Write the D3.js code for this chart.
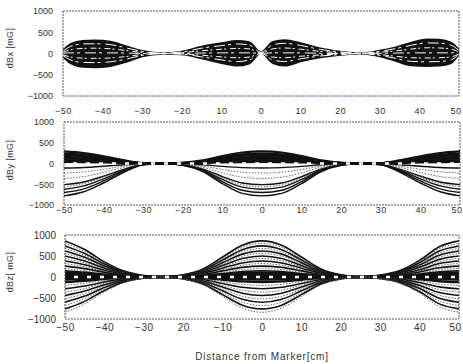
<!DOCTYPE html>
<html>
<head>
<meta charset="utf-8">
<script src="https://cdn.jsdelivr.net/npm/d3@7"></script>
<style>
  body { margin: 0; background: #fff; }
  svg { display: block; font-family: "Liberation Sans", Arial, sans-serif; }
</style>
</head>
<body>
<svg id="chart" width="463" height="364"></svg>
<script>
// ---- shared axis values ----
const xTicks = [-50, -40, -30, -20, -10, 0, 10, 20, 30, 40, 50];
const yTicks = [-1000, -500, 0, 500, 1000];
const yLabels = ['\u22121000', '\u2212500', '0', '500', '1000'];
// tick labels as printed on the scan
const xLabelsBx = ['\u221250', '\u221240', '\u221230', '\u221220', '10', '0', '10', '20', '30', '40', '50'];
const xLabelsBy = ['\u221250', '\u221240', '\u221230', '\u221220', '10', '0', '10', '20', '30', '40', '50'];
const xLabelsBz = ['\u221250', '\u221240', '\u221230', '20', '\u221210', '0', '10', '20', '30', '40', '50'];

// ---- dBx: band of curves (upper / lower envelope) + visible streaks ----
const bxDist  = [-50, -48, -45, -42, -38, -34, -30, -25, -20, -15, -10, -6, -3, 0, 3, 6, 10, 15, 20, 25, 30, 34, 38, 42, 45, 48, 50];
const bxUpper = [80, 230, 300, 310, 280, 170, 65, 10, 50, 165, 245, 300, 270, 40, 280, 320, 250, 125, 50, 5, 70, 150, 260, 335, 330, 260, 90];
const bxLower = [-80, -240, -320, -330, -300, -200, -70, -10, -25, -120, -230, -290, -240, 10, -230, -290, -190, -95, -35, -5, -70, -180, -285, -300, -290, -230, -10];
const bxStreaks = [
  [60, 170, 225, 230, 210, 130, 50, 10, 35, 125, 185, 225, 200, 30, 205, 240, 190, 95, 40, 5, 50, 115, 195, 250, 245, 195, 70],
  [30, 90, 120, 125, 110, 70, 25, 5, 20, 65, 100, 120, 110, 15, 110, 130, 100, 50, 20, 0, 30, 60, 105, 135, 130, 105, 35],
  [5, 15, 15, 15, 15, 10, 0, 0, 5, 10, 15, 15, 15, 5, 15, 15, 15, 5, 0, 0, 5, 10, 15, 15, 15, 15, 40],
  [-30, -85, -110, -115, -105, -70, -25, -5, -10, -40, -80, -100, -85, 0, -85, -100, -65, -35, -10, 0, -25, -65, -100, -105, -100, -80, -5],
  [-50, -155, -210, -215, -195, -130, -45, -5, -15, -80, -150, -190, -155, 5, -155, -190, -125, -60, -25, 0, -45, -115, -185, -195, -190, -150, -5]
];

// ---- dBy curves ----
const byDist = [-50, -45, -40, -35, -30, -25, -20, -15, -10, -5, 0, 5, 10, 15, 20, 25, 30, 35, 40, 45, 50];
const byCurves = [
  [290, 250, 175, 80, 10, 0, 15, 75, 180, 265, 290, 265, 180, 75, 15, 0, 10, 80, 175, 250, 290],
  [240, 210, 145, 65, 10, 0, 15, 60, 150, 220, 240, 220, 150, 60, 15, 0, 10, 65, 145, 210, 240],
  [200, 175, 120, 55, 10, 0, 10, 50, 125, 185, 200, 185, 125, 50, 10, 0, 10, 55, 120, 175, 200],
  [160, 140, 95, 45, 5, 0, 10, 40, 100, 145, 160, 145, 100, 40, 10, 0, 5, 45, 95, 140, 160],
  [120, 105, 70, 35, 5, 0, 5, 30, 75, 110, 120, 110, 75, 30, 5, 0, 5, 35, 70, 105, 120],
  [80, 70, 50, 20, 5, 0, 5, 20, 50, 75, 80, 75, 50, 20, 5, 0, 5, 20, 50, 70, 80],
  [40, 35, 25, 10, 0, 0, 0, 10, 25, 35, 40, 35, 25, 10, 0, 0, 0, 10, 25, 35, 40],
  [-110, -95, -65, -30, -5, 0, -5, -30, -70, -100, -110, -100, -70, -30, -5, 0, -5, -30, -65, -95, -110],
  [-230, -200, -140, -65, -10, 0, -15, -60, -145, -210, -230, -210, -145, -60, -15, 0, -10, -65, -140, -200, -230],
  [-360, -315, -215, -100, -15, 0, -20, -90, -225, -330, -360, -330, -225, -90, -20, 0, -15, -100, -215, -315, -360],
  [-510, -445, -305, -145, -20, 0, -30, -130, -315, -470, -510, -470, -315, -130, -30, 0, -20, -145, -305, -445, -510],
  [-560, -485, -335, -155, -20, 0, -35, -140, -345, -515, -560, -515, -345, -140, -35, 0, -20, -155, -335, -485, -560],
  [-620, -540, -370, -175, -25, 0, -35, -155, -385, -570, -620, -570, -385, -155, -35, 0, -25, -175, -370, -540, -620],
  [-700, -610, -420, -195, -30, 0, -40, -175, -435, -645, -700, -645, -435, -175, -40, 0, -30, -195, -420, -610, -700],
  [-780, -680, -470, -220, -30, 0, -45, -195, -485, -720, -780, -720, -485, -195, -45, 0, -30, -220, -470, -680, -780]
];

// ---- dBz curves ----
const bzDist = [-50, -45, -40, -35, -30, -25, -20, -15, -10, -5, 0, 5, 10, 15, 20, 25, 30, 35, 40, 45, 50];
const bzCurves = [
  [860, 655, 360, 140, 35, 0, 50, 190, 475, 755, 860, 755, 475, 190, 50, 0, 45, 155, 395, 720, 860],
  [800, 610, 335, 130, 30, 0, 50, 175, 440, 705, 800, 705, 440, 175, 50, 0, 40, 145, 370, 670, 800],
  [740, 560, 310, 120, 30, 0, 45, 165, 405, 650, 740, 650, 405, 165, 45, 0, 35, 135, 340, 620, 740],
  [680, 515, 285, 110, 25, 0, 40, 150, 375, 600, 680, 600, 375, 150, 40, 0, 35, 120, 315, 570, 680],
  [620, 470, 260, 100, 25, 0, 35, 135, 340, 545, 620, 545, 340, 135, 35, 0, 30, 110, 285, 520, 620],
  [560, 425, 235, 90, 20, 0, 35, 125, 310, 495, 560, 495, 310, 125, 35, 0, 30, 100, 260, 470, 560],
  [500, 380, 210, 80, 20, 0, 30, 110, 275, 440, 500, 440, 275, 110, 30, 0, 25, 90, 230, 420, 500],
  [440, 335, 185, 70, 20, 0, 25, 95, 240, 385, 440, 385, 240, 95, 25, 0, 20, 80, 200, 370, 440],
  [380, 290, 160, 60, 15, 0, 25, 85, 210, 335, 380, 335, 210, 85, 25, 0, 20, 70, 175, 320, 380],
  [320, 245, 135, 50, 15, 0, 20, 70, 175, 280, 320, 280, 175, 70, 20, 0, 15, 60, 145, 270, 320],
  [260, 200, 110, 40, 10, 0, 15, 55, 145, 230, 260, 230, 145, 55, 15, 0, 15, 45, 120, 220, 260],
  [200, 150, 85, 30, 10, 0, 10, 45, 110, 175, 200, 175, 110, 45, 10, 0, 10, 35, 90, 170, 200],
  [150, 115, 65, 25, 5, 0, 10, 35, 80, 130, 150, 130, 80, 35, 10, 0, 10, 25, 70, 125, 150],
  [110, 85, 45, 20, 5, 0, 5, 25, 60, 95, 110, 95, 60, 25, 5, 0, 5, 20, 50, 90, 110],
  [70, 55, 30, 10, 5, 0, 5, 15, 40, 60, 70, 60, 40, 15, 5, 0, 5, 15, 30, 60, 70],
  [30, 25, 15, 5, 0, 0, 0, 5, 15, 25, 30, 25, 15, 5, 0, 0, 0, 5, 15, 25, 30],
  [-20, -15, -10, -5, 0, 0, 0, -5, -10, -20, -20, -20, -10, -5, 0, 0, 0, -5, -10, -15, -20],
  [-60, -45, -25, -10, 0, 0, 0, -15, -35, -55, -60, -55, -35, -15, 0, 0, 0, -10, -30, -50, -60],
  [-120, -90, -50, -20, -5, 0, -5, -25, -65, -105, -120, -105, -65, -25, -5, 0, -5, -20, -55, -100, -120],
  [-200, -150, -85, -30, -10, 0, -10, -45, -110, -175, -200, -175, -110, -45, -10, 0, -10, -35, -90, -170, -200],
  [-280, -215, -120, -45, -10, 0, -15, -60, -155, -245, -280, -245, -155, -60, -15, 0, -15, -50, -130, -235, -280],
  [-360, -275, -150, -60, -15, 0, -20, -80, -200, -315, -360, -315, -200, -80, -20, 0, -20, -65, -165, -300, -360],
  [-440, -335, -185, -70, -20, 0, -25, -95, -240, -385, -440, -385, -240, -95, -25, 0, -20, -80, -200, -370, -440],
  [-520, -395, -220, -85, -20, 0, -30, -115, -285, -460, -520, -460, -285, -115, -30, 0, -25, -95, -240, -435, -520],
  [-600, -455, -250, -95, -25, 0, -35, -130, -330, -530, -600, -530, -330, -130, -35, 0, -30, -110, -275, -505, -600],
  [-680, -515, -285, -110, -25, 0, -40, -150, -375, -600, -680, -600, -375, -150, -40, 0, -35, -120, -315, -570, -680],
  [-760, -580, -320, -120, -30, 0, -45, -165, -420, -670, -760, -670, -420, -165, -45, 0, -40, -135, -350, -640, -760],
  [-840, -640, -355, -135, -35, 0, -50, -185, -460, -740, -840, -740, -460, -185, -50, 0, -40, -150, -385, -705, -840]
];

const svg = d3.select('#chart');
const ink = '#111';
const textInk = '#333';

function makePanel(id, box, opts) {
  const x = d3.scaleLinear().domain([-50, 50]).range([box.left, box.right]);
  const y = d3.scaleLinear().domain([-1000, 1000]).range([box.bottom, box.top]);

  svg.append('clipPath').attr('id', 'clip-' + id)
    .append('rect')
    .attr('x', box.left).attr('y', box.top)
    .attr('width', box.right - box.left).attr('height', box.bottom - box.top);

  const plot = svg.append('g').attr('clip-path', `url(#clip-${id})`);

  // frame, dotted like the scan
  svg.append('rect')
    .attr('x', box.left).attr('y', box.top)
    .attr('width', box.right - box.left).attr('height', box.bottom - box.top)
    .attr('fill', 'none').attr('stroke', '#555').attr('stroke-width', 1)
    .attr('stroke-dasharray', '2,1');

  svg.append('g')
    .attr('transform', `translate(${box.left},0)`)
    .call(d3.axisLeft(y).tickValues(yTicks).tickSize(0).tickPadding(opts.yPad)
      .tickFormat((d, i) => yLabels[i]))
    .call(g => g.select('.domain').remove())
    .selectAll('text')
    .attr('fill', textInk).attr('font-size', opts.fontSize + 'px');

  svg.append('g')
    .attr('transform', `translate(0,${box.bottom})`)
    .call(d3.axisBottom(x).tickValues(xTicks).tickSize(0).tickPadding(opts.xPad)
      .tickFormat((d, i) => opts.xLabels[i]))
    .call(g => g.select('.domain').remove())
    .selectAll('text')
    .attr('fill', textInk).attr('font-size', opts.fontSize + 'px')
    .attr('letter-spacing', '0.5px')
    // keep the last label inside the window
    .filter((d, i, n) => i === n.length - 1)
    .attr('text-anchor', 'end').attr('dx', 2);

  svg.append('text')
    .attr('transform', `translate(13,${opts.titleY}) rotate(-90)`)
    .attr('text-anchor', 'middle')
    .attr('fill', textInk).attr('font-size', '9px')
    .attr('letter-spacing', '0.4px')
    .text(opts.title);

  return { x, y, plot };
}

function curveLine(x, y, dist) {
  return d3.line()
    .x((d, i) => x(dist[i]))
    .y(d => y(d))
    .curve(d3.curveMonotoneX);
}

// broken zero line where the curves converge (as on the scan)
function zeroBreaks(plot, x, y, dash) {
  plot.append('line')
    .attr('x1', x(-50)).attr('x2', x(50))
    .attr('y1', y(0)).attr('y2', y(0))
    .attr('stroke', '#fff').attr('stroke-width', 2.4)
    .attr('stroke-dasharray', dash);
}

// ---- panel 1: dBx ----
{
  const { x, y, plot } = makePanel('bx', { left: 63, right: 459, top: 11, bottom: 96 },
    { xLabels: xLabelsBx, xPad: 12, yPad: 10, fontSize: 9, title: 'dBx [mG]', titleY: 48 });

  const band = d3.area()
    .x((d, i) => x(bxDist[i]))
    .y0((d, i) => y(bxLower[i]))
    .y1(d => y(d))
    .curve(d3.curveMonotoneX);

  plot.append('path').datum(bxUpper)
    .attr('d', band).attr('fill', ink)
    .attr('stroke', ink).attr('stroke-width', 1.5);

  plot.selectAll('.streak')
    .data(bxStreaks)
    .join('path')
    .attr('class', 'streak')
    .attr('d', curveLine(x, y, bxDist))
    .attr('fill', 'none')
    .attr('stroke', '#fff')
    .attr('stroke-width', 1)
    .attr('stroke-dasharray', (d, i) => i % 2 ? '6,2,2,4' : '11,3,3,5');
}

// ---- panel 2: dBy ----
{
  const { x, y, plot } = makePanel('by', { left: 64, right: 460, top: 122, bottom: 205 },
    { xLabels: xLabelsBy, xPad: 2, yPad: 10, fontSize: 9, title: 'dBy [mG]', titleY: 160 });

  const dotted = new Set([8, 9, 11]);
  plot.selectAll('.curve')
    .data(byCurves)
    .join('path')
    .attr('class', 'curve')
    .attr('d', curveLine(x, y, byDist))
    .attr('fill', 'none')
    .attr('stroke', (d, i) => dotted.has(i) ? '#666' : ink)
    .attr('stroke-width', (d, i) => i < 7 ? 2.2 : (dotted.has(i) ? 1 : 1.4))
    .attr('stroke-dasharray', (d, i) => dotted.has(i) ? '1.5,1.5' : null);

  zeroBreaks(plot, x, y, '0,9,4,0');
}

// ---- panel 3: dBz ----
{
  const { x, y, plot } = makePanel('bz', { left: 65, right: 459, top: 235, bottom: 319 },
    { xLabels: xLabelsBz, xPad: 5, yPad: 9, fontSize: 10, title: 'dBz[ mG]', titleY: 272 });

  const isCore = d => d3.max(d, v => Math.abs(v)) <= 120;
  plot.selectAll('.curve')
    .data(bzCurves)
    .join('path')
    .attr('class', 'curve')
    .attr('d', curveLine(x, y, bzDist))
    .attr('fill', 'none')
    .attr('stroke', (d, i) => isCore(d) ? ink : (i % 2 ? '#666' : ink))
    .attr('stroke-width', (d, i) => isCore(d) ? 2.4 : (i % 2 ? 1 : 1.6))
    .attr('stroke-dasharray', (d, i) => !isCore(d) && i % 2 ? '1.5,1.5' : null);

  zeroBreaks(plot, x, y, '0,9,4,0');
}

svg.append('text')
  .attr('x', 262).attr('y', 360)
  .attr('text-anchor', 'middle')
  .attr('fill', textInk).attr('font-size', '10px')
  .attr('letter-spacing', '0.8px')
  .text('Distance from Marker[cm]');
</script>
</body>
</html>
